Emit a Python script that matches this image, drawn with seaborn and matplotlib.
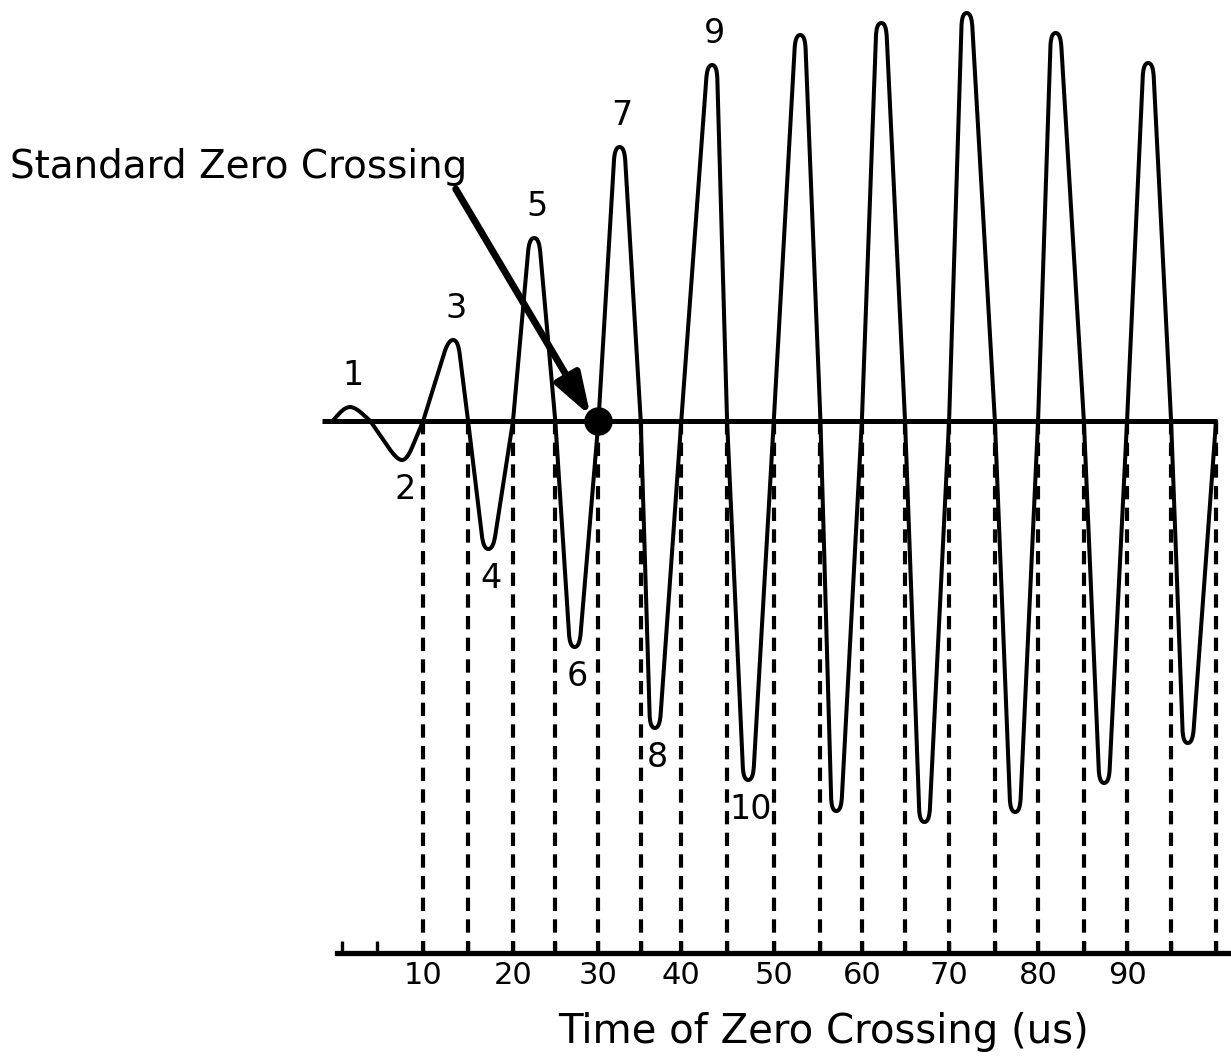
import numpy as np
import pandas as pd
import seaborn as sns
import matplotlib.pyplot as plt

# zero crossing times (us)
crossings = [-0.3, 4.0, 10.0, 15.1, 20.2, 25.0, 29.9, 34.7, 39.3, 44.5, 49.8,
             55.1, 59.8, 64.7, 69.7, 74.9, 79.8, 85.0, 89.9, 94.9, 100.0]
# time and amplitude of each half-cycle extreme (amplitude in drawing units)
peak_times = [1.7, 7.6, 13.4, 17.4, 22.6, 27.2, 32.3, 36.3, 42.8, 46.9,
              52.8, 56.9, 62.0, 66.9, 71.7, 77.2, 81.8, 87.3, 92.3, 96.8]
peak_amps = [14, -39, 81, -128, 183, -226, 274, -307, 356, -359,
             386, -390, 398, -401, 408, -391, 388, -362, 358, -322]
peak_names = ['1', '2', '3', '4', '5', '6', '7', '8', '9', '10']
standard_crossing = 29.9
tick_values = [10, 20, 30, 40, 50, 60, 70, 80, 90]
tick_places = [10.0, 20.2, 29.9, 39.3, 49.8, 59.8, 69.7, 79.8, 89.9]
extra_ticks = [0.8, 4.8]

PX = 8.81  # px per us, used only to round the corners evenly


def rounded(points, d=14, n=12):
    # replace each tip corner of the polyline with a small quadratic curve
    pts = np.array(points, dtype=float)
    s = pts * [PX, 1]
    out = [pts[0]]
    for i in range(1, len(pts) - 1):
        p, a, b = s[i], s[i - 1], s[i + 1]
        if pts[i, 1] == 0:
            out.append(pts[i])
            continue
        fa = min(d / np.hypot(*(a - p)), 0.5)
        fb = min(d / np.hypot(*(b - p)), 0.5)
        q0 = p + (a - p) * fa
        q2 = p + (b - p) * fb
        for u in np.linspace(0, 1, n):
            q = (1 - u) ** 2 * q0 + 2 * u * (1 - u) * p + u ** 2 * q2
            out.append(q / [PX, 1])
    out.append(pts[-1])
    return np.array(out)


h = 0.55  # half width of the flat part of each tip
corners = []
for i, (tp, a) in enumerate(zip(peak_times, peak_amps)):
    corners.append((crossings[i], 0))
    corners.append((tp - h, a))
    corners.append((tp + h, a))
corners.append((crossings[-1], 0))
wave = rounded(corners)
df = pd.DataFrame({'time': wave[:, 0], 'amp': wave[:, 1]})

sns.set_style('white')
plt.rcParams['font.family'] = ['DejaVu Sans']
plt.rcParams['text.color'] = 'black'
plt.rcParams['axes.labelcolor'] = 'black'
plt.rcParams['xtick.color'] = 'black'
plt.rcParams['axes.edgecolor'] = 'black'

fig = plt.figure(figsize=(12.31, 10.59), dpi=100)
ax = fig.add_axes([322 / 1231, 1 - 953 / 1059, 909 / 1231, 953 / 1059])
ax.set_xlim(-1.48, 101.7)
ax.set_ylim(-532, 421)

# dashed drop lines at every zero crossing from 10 us on
for c in crossings[2:]:
    ax.plot([c, c], [0, -532], color='black', lw=3, ls=(0, (3.2, 2)),
            dash_capstyle='butt', zorder=1)

# baseline
ax.plot([-1.48, 100], [0, 0], color='black', lw=3.6, zorder=2,
        solid_capstyle='butt')
ax.plot([100, 100], [0, -10], color='black', lw=3, zorder=2)

sns.lineplot(data=df, x='time', y='amp', sort=False, estimator=None,
             color='black', lw=2.9, ax=ax, zorder=3)

sns.scatterplot(x=[standard_crossing], y=[0], s=360, color='black',
                edgecolor='black', ax=ax, zorder=5)

# peak numbers
for name, tp, a in zip(peak_names, peak_times, peak_amps):
    off = 23 if a > 0 else -21
    ax.annotate(name, xy=(tp, a), xytext=(2, off), textcoords='offset points',
                ha='center', va='center', fontsize=24, color='black')

fig.text(10 / 1231, 1 - 178 / 1059, 'Standard Zero Crossing',
         fontsize=28, ha='left', va='baseline', color='black')
ax.annotate('', xy=(29.0, 5), xytext=(13.7, 232),
            arrowprops=dict(arrowstyle='-|>,head_length=0.9,head_width=0.3',
                            lw=5, color='black', mutation_scale=28,
                            shrinkA=0, shrinkB=0))

for side in ['top', 'right', 'left']:
    ax.spines[side].set_visible(False)
ax.spines['bottom'].set_linewidth(3.8)
ax.spines['bottom'].set_bounds(0.2, 101.7)
ax.set_yticks([])

ticks = extra_ticks + crossings[2:]
labels = ['', ''] + ['' for _ in crossings[2:]]
for v, p in zip(tick_values, tick_places):
    labels[ticks.index(p)] = str(v)
ax.set_xticks(ticks, labels)
ax.tick_params(axis='x', bottom=True, direction='in', length=9, width=2.4,
               pad=6, labelsize=22, colors='black')
ax.set_xlabel('Time of Zero Crossing (us)', fontsize=29, color='black')
ax.xaxis.set_label_coords(0.552, -0.062)
ax.set_ylabel('')

fig.savefig('out.png', dpi=100)
